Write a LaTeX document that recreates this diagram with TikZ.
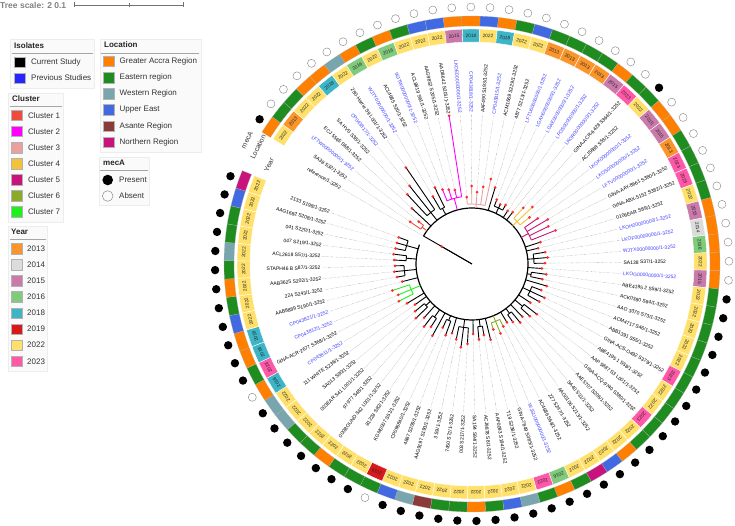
\documentclass[tikz,border=0pt]{standalone}
\usepackage{fontspec}
\setmainfont{Liberation Sans}
\definecolor{loc1}{HTML}{FF8000}
\definecolor{loc2}{HTML}{1E8C1E}
\definecolor{loc3}{HTML}{78A5AE}
\definecolor{loc4}{HTML}{4169E1}
\definecolor{loc5}{HTML}{8B3A3A}
\definecolor{loc6}{HTML}{C8137D}
\definecolor{y2013}{HTML}{F9952A}
\definecolor{y2014}{HTML}{DCDCDC}
\definecolor{y2015}{HTML}{C97AAB}
\definecolor{y2016}{HTML}{7FCB7B}
\definecolor{y2018}{HTML}{3DB5C7}
\definecolor{y2019}{HTML}{D7191C}
\definecolor{y2022}{HTML}{FEE06A}
\definecolor{y2023}{HTML}{FF58A8}
\definecolor{cA}{HTML}{F04A3C}
\definecolor{cB}{HTML}{FF00FF}
\definecolor{cC}{HTML}{EBA0A0}
\definecolor{cD}{HTML}{F2C23A}
\definecolor{cE}{HTML}{C8137A}
\definecolor{cF}{HTML}{8BAA28}
\definecolor{cG}{HTML}{1EF01E}
\definecolor{labblue}{HTML}{3C3CFF}
\definecolor{tipred}{HTML}{FF2E2E}
\begin{document}
\begin{tikzpicture}[x=1pt,y=1pt]
\tikzset{
 br/.style={line width=0.9pt},
 lab/.style={font=\fontsize{5}{6}\selectfont, inner sep=0.4pt},
 yrlab/.style={font=\fontsize{4.8}{5}\selectfont, text=black!85, inner sep=0},
 dotl/.style={draw=black!45, line width=0.35pt, dash pattern=on 0.4pt off 0.9pt},
 leg/.style={font=\fontsize{8}{9}\selectfont, text=black!80, anchor=west, inner sep=0},
 legh/.style={font=\bfseries\fontsize{8}{9}\selectfont, text=black!85, anchor=west, inner sep=0},
 legsq/.style={draw=black!30, line width=0.3pt},
 legbox/.style={fill=black!2, draw=black!7, line width=0.4pt},
 legline/.style={draw=black!35, line width=0.8pt},
 ringlab/.style={font=\fontsize{7}{8}\selectfont, text=black!80, rotate=64, inner sep=0},
}
\useasboundingbox (-472,-262) rectangle (263,264);
\def\leafdata{1/reference/0/0/0/2/35/0/black,
2/SA38 S32/0/2022/1/1/75/62/cA,
3/LFTW00000000/1/2013/2/0/68/62/cA,
4/ECJ 5565 S68/0/2022/2/0/82/56/black,
5/SA HVS S38/0/2022/1/0/95/66/black,
6/CP043817/1/2018/1/0/100/66/black,
7/280-Harrie S9 L001/0/2022/3/0/117/66/black,
8/WJTY00000000/1/2016/1/0/78/63/black,
9/ACL4685 S20/0/2022/2/0/85/63/black,
10/WJTW00000000/1/2016/1/0/80/68/cB,
11/ACL8819 S61/0/2022/2/0/78/68/cB,
12/AAG9852 S205/0/2022/4/0/76/68/cB,
13/AAD8642 S201/0/2022/4/0/150/68/cB,
14/LKOE00000000/1/2015/1/0/67/60/cC,
15/CP043818/1/2018/1/0/78/60/cC,
16/AAF490 S193/0/2022/4/0/72/60/cC,
17/CP043815/1/2018/1/0/78/60/cC,
18/ACM1669 S229/0/2022/2/0/87/60/cC,
19/4877 S213/0/2022/4/0/80/56/black,
20/LFTU00000000/1/2013/2/0/69/62/black,
21/LGAH00000000/1/2013/2/0/66/62/black,
22/LGAE00000000/1/2013/2/0/68/62/black,
23/LFOS00000000/1/2013/2/0/64/56/black,
24/LKOR00000000/1/2015/1/0/66/56/black,
25/GINA-ACR-6428 S364/0/2023/2/0/76/62/cD,
26/ACJ5688 S53/0/2022/2/1/83/62/cD,
27/LKOK00000000/1/2015/1/0/74/62/cD,
28/LKOS00000000/1/2015/1/0/80/64/cE,
29/LFTV00000000/1/2013/2/0/88/64/cE,
30/GINA-AAY-8661 S380/0/2023/2/0/85/64/cE,
31/GINA-ABX-5152 S382/0/2023/2/0/90/64/cE,
32/0106EAR S89/0/2022/2/0/72/56/black,
33/LKOH00000000/1/2015/1/0/68/56/black,
34/LKOF00000000/1/2014/1/0/74/62/black,
35/WJTX00000000/1/2016/1/0/76/62/black,
36/SA138 S37/0/2022/1/0/73/62/black,
37/LKOG00000000/1/2015/1/0/70/56/black,
38/ABE4195 2 S59/0/2022/2/1/75/60/black,
39/ACK0380 S64/0/2022/2/1/72/60/black,
40/AAO 3370 S73/0/2022/2/1/78/56/black,
41/ACM4717 S46/0/2022/2/1/74/64/black,
42/ABB1391 S55/0/2022/2/1/80/64/black,
43/GINA-ACS-O492 S379/0/2023/2/1/77/64/black,
44/ABE4195 1 S58/0/2022/2/1/70/56/black,
45/AAP 5887 S3 L001/0/2022/2/1/82/66/black,
46/GINA-ACQ-9740 S380/0/2023/2/1/78/66/black,
47/AAE5707 S206/0/2022/2/1/73/56/black,
48/SA40 S31/0/2022/1/1/76/62/black,
49/AAG0106 S213/0/2022/4/1/71/62/black,
50/Z27 S247/0/2022/6/1/68/56/black,
51/AC4686 S68/0/2022/2/1/70/62/cF,
52/WJSU00000000/1/2016/1/1/75/62/cF,
53/GINA-7849 S385/0/2023/2/1/69/62/cF,
54/T19 S238/0/2022/3/1/78/56/black,
55/AAF0093 S194/0/2022/4/1/72/63/black,
56/ACJ9878 S8/0/2022/2/1/76/63/black,
57/SA194 S94/0/2022/1/1/70/56/black,
58/003 S217/0/2022/2/1/80/64/black,
59/7450 S72/0/2022/2/1/84/64/black,
60/3 S9/0/2022/5/1/77/64/black,
61/AAG9197 S193/0/2022/3/1/72/56/black,
62/4887 S209/0/2022/4/1/76/61/black,
63/CP096840/0/2019/2/0/70/61/black,
64/KGM0007 S51/0/2022/2/1/82/56/black,
65/81228 S82/0/2022/2/1/75/65/black,
66/000BOUND S42 L001/0/2022/1/1/79/65/black,
67/97977 S48/0/2022/2/1/72/56/black,
68/003EAR S41 L001/0/2022/2/1/78/62/black,
69/SA013 S90/0/2022/3/1/74/62/black,
70/111 WHITE S236/0/2022/3/1/70/56/black,
71/CP043811/1/2018/1/0/76/56/black,
72/GINA-ACR-2677 S368/0/2023/2/1/82/66/cG,
73/CP043812/1/2018/1/1/80/66/cG,
74/CP043821/1/2018/1/1/84/66/cG,
75/AAB8889 S190/0/2022/4/1/72/56/black,
76/224 S243/0/2022/2/1/76/68/black,
77/AAB3625 S202/0/2022/1/1/78/68/black,
78/STAPH46 B S87/0/2022/2/1/77/68/black,
79/ACL2618 S57/0/2022/3/1/78/66/black,
80/047 S219/0/2022/2/1/79/66/black,
81/041 S220/0/2022/2/1/78/68/black,
82/AAG1682 S208/0/2022/4/1/78/68/black,
83/2133 S198/0/2022/6/1/78/68/black}
% rings, labels, dotted guides
\foreach \i/\nm/\bl/\yr/\lc/\mc/\tp/\bs/\cl in \leafdata {
 \pgfmathsetmacro\ang{150-(\i-1)*4.268}
 \pgfmathsetmacro\angA{\ang+2.134}
 \pgfmathsetmacro\angB{\ang-2.134}
 \pgfmathtruncatemacro\rs{and(\ang>-90,\ang<90)}
 \pgfmathsetmacro\ts{\tp+1.5}
 \draw[dotl] (\ang:\ts) -- (\ang:150);
 \ifnum\yr>0
  \filldraw[fill=y\yr, draw=white, line width=0.4pt] (\angA:222) arc[start angle=\angA, end angle=\angB, radius=222pt] -- (\angB:235) arc[start angle=\angB, end angle=\angA, radius=235pt] -- cycle;
  \pgfmathsetmacro\tr{\ang-90}
  \node[yrlab, rotate=\tr] at (\ang:228.5) {\yr};
 \fi
 \ifnum\lc>0
  \filldraw[fill=loc\lc, draw=black!30, line width=0.2pt] (\angA:238) arc[start angle=\angA, end angle=\angB, radius=238pt] -- (\angB:248) arc[start angle=\angB, end angle=\angA, radius=248pt] -- cycle;
 \fi
 \ifnum\mc=1 \fill[black] (\ang:257) circle (4.2pt); \fi
 \ifnum\mc=0 \draw[black!45, line width=0.45pt, fill=white] (\ang:257) circle (4pt); \fi
 \ifnum\bl=1 \def\tc{labblue}\else\def\tc{black}\fi
 \ifnum\rs=1
  \node[lab, text=\tc, anchor=west, rotate=\ang] at (\ang:151) {\nm/1-3252};
 \else
  \pgfmathsetmacro\ra{\ang+180}
  \node[lab, text=\tc, anchor=east, rotate=\ra] at (\ang:151) {\nm/1-3252};
 \fi
}
% tree
\draw[br] (0,0) -- (150:56);
\draw[line width=1.2pt] (150:56) arc[start angle=150, end angle=-200.2, radius=56pt];
\foreach \f/\lf/\r/\cc in {2/3/62/cA, 5/7/66/black, 8/9/63/black, 10/13/68/cB, 14/18/60/cC, 20/22/62/black, 25/27/62/cD, 28/31/64/cE, 34/36/62/black, 38/39/60/black, 41/43/64/black, 45/46/66/black, 48/49/62/black, 51/53/62/cF, 55/56/63/black, 58/60/64/black, 62/63/61/black, 65/66/65/black, 68/69/62/black, 72/74/66/cG, 76/78/68/black, 79/80/66/black, 81/83/68/black}{
 \pgfmathsetmacro\angF{150-(\f-1)*4.268}
 \pgfmathsetmacro\angL{150-(\lf-1)*4.268}
 \pgfmathsetmacro\angM{(\angF+\angL)/2}
 \draw[br, draw=\cc] (\angM:56) -- (\angM:\r);
 \draw[br, draw=\cc] (\angF:\r) arc[start angle=\angF, end angle=\angL, radius=\r pt];
}
\foreach \i/\nm/\bl/\yr/\lc/\mc/\tp/\bs/\cl in \leafdata {
 \pgfmathsetmacro\ang{150-(\i-1)*4.268}
 \draw[br, draw=\cl] (\ang:\bs) -- (\ang:\tp);
}
\foreach \i/\nm/\bl/\yr/\lc/\mc/\tp/\bs/\cl in \leafdata {
 \pgfmathsetmacro\ang{150-(\i-1)*4.268}
 \fill[tipred] (\ang:\tp) circle (1.5pt);
}
% ring titles
\node[ringlab] (tmec) at (-225,124) {mecA};
\node[ringlab] (tloc) at (-214,117) {Location};
\node[ringlab] (tyear) at (-203,99) {Year};
% legend (image coordinates)
\begin{scope}[shift={(-472,264)}, yscale=-1]
 \node[font=\bfseries\fontsize{8.5}{9}\selectfont, text=black!50, anchor=west, inner sep=0] (ts) at (0,5) {Tree scale: 2 0.1};
 \draw[black!55, line width=0.8pt] (74,5) -- (183,5) (74,2.5) -- (74,7.5) (129,3) -- (129,7) (183,2.5) -- (183,7.5);
 \draw[legbox] (10,39) rectangle (94,88);
 \draw[legbox] (100,39) rectangle (201,152);
 \draw[legbox] (8,93) rectangle (63,222);
 \draw[legbox] (99,157) rectangle (149,205);
 \draw[legbox] (8,226) rectangle (47,371);
 % Isolates
 \node[legh] at (14,46) {Isolates};
 \draw[legline] (12,53) -- (93,53);
 \filldraw[legsq, fill=black] (14,57) rectangle (25,67.5);
 \node[leg] at (31,62) {Current Study};
 \filldraw[legsq, fill=blue!85!white] (14,73) rectangle (25,83.5);
 \node[leg] at (31,78) {Previous Studies};
 % Location
 \node[legh] at (104,45) {Location};
 \draw[legline] (101,53) -- (199,53);
 \foreach \k/\t in {1/Greater Accra Region, 2/Eastern region, 3/Western Region, 4/Upper East, 5/Asante Region, 6/Northern Region}{
  \pgfmathsetmacro\yy{56+(\k-1)*16.2}
  \filldraw[legsq, fill=loc\k] (103,\yy) rectangle (114,\yy+10.5);
  \node[leg] at (119.5,\yy+5.3) {\t};
 }
 % Cluster
 \node[legh] at (12,99) {Cluster};
 \draw[legline] (10,106) -- (62,106);
 \foreach \k/\cc in {1/cA, 2/cB, 3/cC, 4/cD, 5/cE, 6/cF, 7/cG}{
  \pgfmathsetmacro\yy{110+(\k-1)*16.1}
  \filldraw[legsq, fill=\cc] (11.5,\yy) rectangle (22.5,\yy+10.5);
  \node[leg] at (28,\yy+5.3) {Cluster \k};
 }
 % mecA
 \node[legh] at (103,163) {mecA};
 \draw[legline] (100,170) -- (148,170);
 \fill[black] (107.7,180) circle (5.3pt);
 \node[leg] at (119,180) {Present};
 \draw[black!45, line width=0.5pt] (107.7,196) circle (5.3pt);
 \node[leg] at (119,196) {Absent};
 % Year
 \node[legh] at (11,232) {Year};
 \draw[legline] (10,239.5) -- (46,239.5);
 \foreach \k/\t in {1/2013, 2/2014, 3/2015, 4/2016, 5/2018, 6/2019, 7/2022, 8/2023}{
  \pgfmathsetmacro\yy{243.3+(\k-1)*16.1}
  \filldraw[legsq, fill=y\t] (11,\yy) rectangle (22,\yy+10.6);
  \node[leg] at (27,\yy+5.3) {\t};
 }
\end{scope}
\end{tikzpicture}
\end{document}
